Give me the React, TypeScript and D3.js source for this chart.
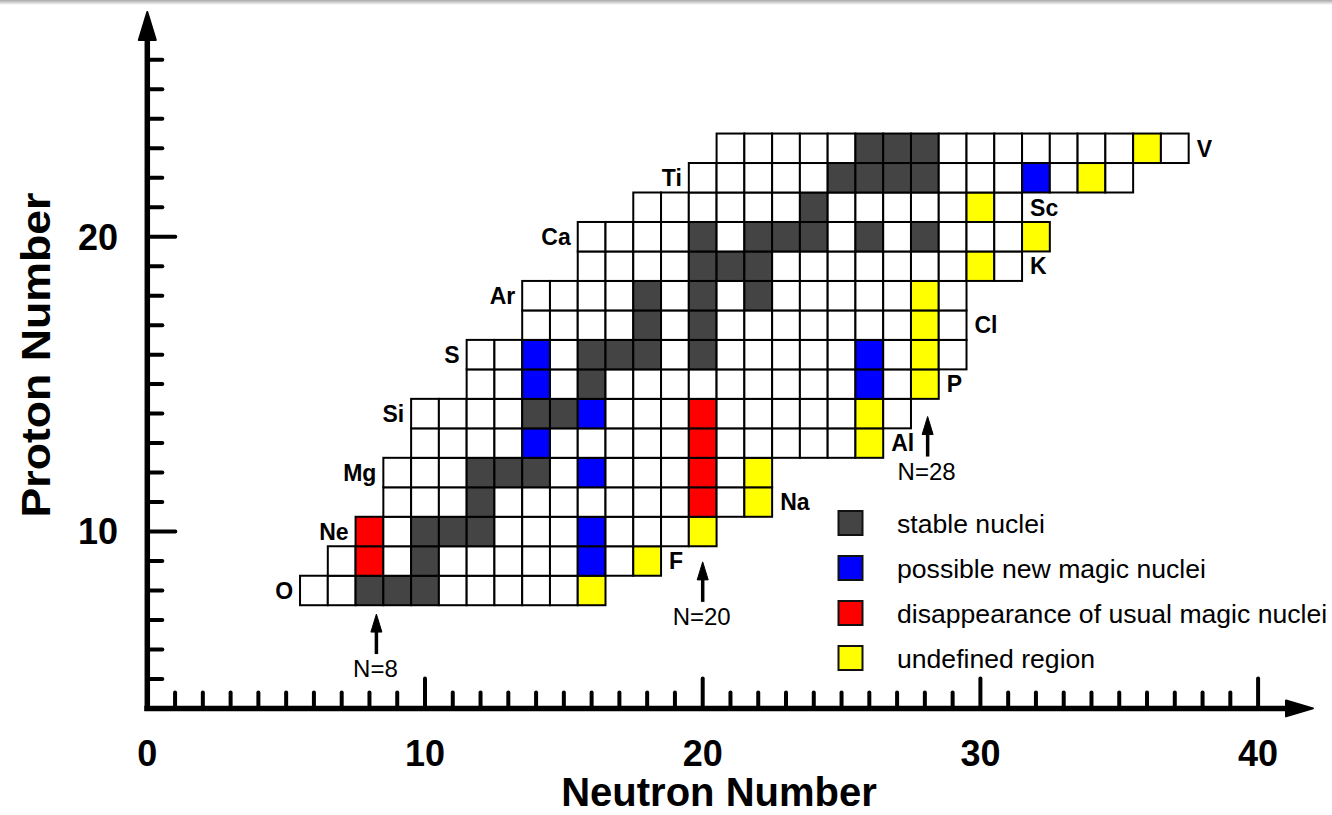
import React from 'react';
import * as d3 from 'd3';

// ---- data ----
// rows of the nuclide chart: proton number and first/last neutron number drawn
const protonRows = [8, 9, 10, 11, 12, 13, 14, 15, 16, 17, 18, 19, 20, 21, 22, 23];
const rowFirstN = [6, 7, 8, 9, 9, 10, 10, 12, 12, 14, 14, 16, 16, 18, 20, 21];
const rowLastN = [16, 18, 20, 22, 22, 26, 27, 28, 29, 29, 29, 31, 32, 31, 35, 37];

// [N, Z]
const stableNuclei: [number, number][] = [
  [8, 8], [9, 8], [10, 8],
  [10, 9],
  [10, 10], [11, 10], [12, 10],
  [12, 11],
  [12, 12], [13, 12], [14, 12],
  [14, 14], [15, 14],
  [16, 15],
  [16, 16], [17, 16], [18, 16], [20, 16],
  [18, 17], [20, 17],
  [18, 18], [20, 18], [22, 18],
  [20, 19], [21, 19], [22, 19],
  [20, 20], [22, 20], [23, 20], [24, 20], [26, 20], [28, 20],
  [24, 21],
  [25, 22], [26, 22], [27, 22], [28, 22],
  [26, 23], [27, 23], [28, 23],
];
const newMagicNuclei: [number, number][] = [
  [16, 9], [16, 10], [16, 12], [14, 13], [16, 14], [14, 15], [26, 15], [14, 16], [26, 16], [32, 22],
];
const lostMagicNuclei: [number, number][] = [
  [8, 9], [8, 10], [20, 11], [20, 12], [20, 13], [20, 14],
];
const undefinedRegion: [number, number][] = [
  [16, 8], [18, 9], [20, 10], [22, 11], [22, 12], [26, 13], [26, 14], [28, 15],
  [28, 16], [28, 17], [28, 18], [30, 19], [32, 20], [30, 21], [34, 22], [36, 23],
];

const leftElements = ['O', 'Ne', 'Mg', 'Si', 'S', 'Ar', 'Ca', 'Ti'];
const leftElementZ = [8, 10, 12, 14, 16, 18, 20, 22];
const rightElements = ['F', 'Na', 'Al', 'P', 'Cl', 'K', 'Sc', 'V'];
const rightElementZ = [9, 11, 13, 15, 17, 19, 21, 23];

const xTickLabels = [0, 10, 20, 30, 40];
const yTickLabels = [10, 20];

const magicLabels = ['N=8', 'N=20', 'N=28'];
const magicArrowN = [8.25, 20, 28.1];
const magicArrowTipZ = [7.2, 8.97, 13.9];

const legendLabels = ['stable nuclei', 'possible new magic nuclei', 'disappearance of usual magic nuclei', 'undefined region'];
const legendColors = ['#444444', '#0000ff', '#ff0000', '#ffff00'];

const FONT = "'Liberation Sans', Arial, Helvetica, sans-serif";

export default function App() {
  const W = 1332;
  const H = 815;
  const x = d3.scaleLinear().domain([0, 40]).range([147.3, 1258.1]);
  const y = d3.scaleLinear().domain([4, 26]).range([708.4, 59.84]);
  const cw = x(1) - x(0);
  const ch = y(0) - y(1);

  const kind = new Map<string, string>();
  const groups: [number, number][][] = [stableNuclei, newMagicNuclei, lostMagicNuclei, undefinedRegion];
  groups.forEach((g, gi) => g.forEach(([n, z]) => kind.set(`${n},${z}`, legendColors[gi])));

  const cells = protonRows.flatMap((z, i) =>
    d3.range(rowFirstN[i], rowLastN[i] + 1).map((n) => ({ n, z, fill: kind.get(`${n},${z}`) ?? '#ffffff' }))
  );

  const x0 = x(0);
  const y0 = y(4);
  const xMinor = d3.range(1, 41);
  const yMinor = d3.range(5, 27);

  return (
    <svg width={W} height={H} style={{ position: 'absolute', left: 0, top: 0, background: '#fff' }} fontFamily={FONT}>
      <defs>
        <linearGradient id="topShade" x1="0" y1="0" x2="0" y2="1">
          <stop offset="0" stopColor="#a8a8a8" />
          <stop offset="1" stopColor="#ffffff" />
        </linearGradient>
      </defs>
      <rect x={0} y={0} width={W} height={H} fill="#fff" />
      <rect x={0} y={0} width={W} height={5} fill="url(#topShade)" />

      {/* cells */}
      <g>
        {cells.map((c) => (
          <rect
            key={`${c.n}-${c.z}`}
            x={x(c.n - 0.5)}
            y={y(c.z + 0.5)}
            width={cw}
            height={ch}
            fill={c.fill}
            stroke="#000"
            strokeWidth={2}
          />
        ))}
      </g>

      {/* element labels */}
      {leftElements.map((el, i) => {
        const ri = protonRows.indexOf(leftElementZ[i]);
        return (
          <text key={el} x={x(rowFirstN[ri] - 0.5) - 7} y={y(leftElementZ[i])} dy="0.36em" textAnchor="end" fontSize={23} fontWeight="bold">
            {el}
          </text>
        );
      })}
      {rightElements.map((el, i) => {
        const ri = protonRows.indexOf(rightElementZ[i]);
        return (
          <text key={el} x={x(rowLastN[ri] + 0.5) + 8} y={y(rightElementZ[i])} dy="0.36em" textAnchor="start" fontSize={23} fontWeight="bold">
            {el}
          </text>
        );
      })}

      {/* magic number markers */}
      {magicLabels.map((lab, i) => {
        const ax = x(magicArrowN[i]);
        const tip = y(magicArrowTipZ[i]);
        return (
          <g key={lab}>
            <line x1={ax} x2={ax} y1={tip + 12} y2={tip + 40} stroke="#000" strokeWidth={3.5} />
            <polygon points={`${ax},${tip} ${ax - 5.5},${tip + 18} ${ax + 5.5},${tip + 18}`} fill="#000" stroke="#000" strokeWidth={1} strokeLinejoin="round" />
            <text x={ax - 1} y={tip + 63} textAnchor="middle" fontSize={24}>
              {lab}
            </text>
          </g>
        );
      })}

      {/* legend */}
      {legendLabels.map((lab, i) => (
        <g key={lab}>
          <rect x={838.5} y={511 + i * 45} width={24} height={24} fill={legendColors[i]} stroke="#111" strokeWidth={2} />
          <text x={897} y={533 + i * 45} fontSize={26.6}>
            {lab}
          </text>
        </g>
      ))}

      {/* axes */}
      <g stroke="#000" strokeLinecap="butt">
        {xMinor.map((n) => (
          <line key={`xt${n}`} x1={x(n)} x2={x(n)} y1={y0} y2={y0 - (n % 10 === 0 ? 30 : 16)} strokeWidth={4} strokeLinecap="round" />
        ))}
        {yMinor.map((z) => (
          <line key={`yt${z}`} x1={x0} x2={x0 + (z % 10 === 0 ? 28 : 15)} y1={y(z)} y2={y(z)} strokeWidth={4} strokeLinecap="round" />
        ))}
        <line x1={x0 - 3} x2={1292} y1={y0} y2={y0} strokeWidth={5.5} />
        <line x1={x0} x2={x0} y1={y0 + 2.7} y2={36} strokeWidth={5.5} />
      </g>
      <polygon points={`1313,${y0} 1286,${y0 - 8} 1286,${y0 + 8}`} fill="#000" stroke="#000" strokeWidth={2} strokeLinejoin="round" />
      <polygon points={`${x0},12 ${x0 - 8.5},40 ${x0 + 8.5},40`} fill="#000" stroke="#000" strokeWidth={2} strokeLinejoin="round" />

      {/* tick labels */}
      {xTickLabels.map((v) => (
        <text key={`xl${v}`} x={x(v)} y={766} textAnchor="middle" fontSize={36} fontWeight="bold">
          {v}
        </text>
      ))}
      {yTickLabels.map((v) => (
        <text key={`yl${v}`} x={118} y={y(v)} dy="0.36em" textAnchor="end" fontSize={36} fontWeight="bold">
          {v}
        </text>
      ))}

      {/* axis titles */}
      <text x={719} y={806} textAnchor="middle" fontSize={40} fontWeight="bold">
        Neutron Number
      </text>
      <text
        transform="translate(50,355) rotate(-90)"
        textAnchor="middle"
        fontSize={40}
        fontWeight="bold"
        textLength={325}
        lengthAdjust="spacingAndGlyphs"
      >
        Proton Number
      </text>
    </svg>
  );
}
